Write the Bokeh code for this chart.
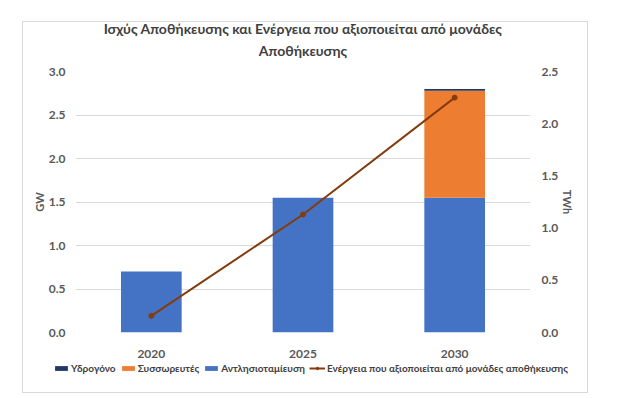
from bokeh.plotting import figure
from bokeh.layouts import column
from bokeh.models import (ColumnDataSource, FactorRange, Range1d, LinearAxis, Legend,
                          LegendItem, SingleIntervalTicker, NumeralTickFormatter, Title)
from bokeh.embed import file_html
from bokeh.resources import INLINE

# ---- data ----
years = ["2020", "2025", "2030"]
pumped = [0.70, 1.55, 1.55]        # Αντλησιοταμίευση (GW)
batteries = [0.0, 0.0, 1.23]       # Συσσωρευτές (GW)
hydrogen = [0.0, 0.0, 0.02]        # Υδρογόνο (GW)
energy = [0.16, 1.13, 2.25]        # Ενέργεια (TWh)

title_line1 = "Ισχύς Αποθήκευσης και Ενέργεια που αξιοποιείται από μονάδες"
title_line2 = "Αποθήκευσης"
names = ["Υδρογόνο", "Συσσωρευτές", "Αντλησιοταμίευση",
         "Ενέργεια που αξιοποιείται από μονάδες αποθήκευσης"]
colors = ["#1F3864", "#ED7D31", "#4472C4"]   # hydrogen, batteries, pumped
LINE_C = "#843C0C"

FONT = "Lato"
TXT = "#595959"

src = ColumnDataSource(dict(years=years, pumped=pumped, batteries=batteries,
                            hydrogen=hydrogen, energy=energy))

p = figure(x_range=FactorRange(*years), y_range=Range1d(0, 3.0),
           width=564, height=338, output_backend="svg", toolbar_location=None,
           min_border_left=52, min_border_right=57, min_border_top=49, min_border_bottom=26)
p.outline_line_color = None
p.extra_y_ranges = {"twh": Range1d(0, 2.5)}

bars = p.vbar_stack(["pumped", "batteries", "hydrogen"], x="years", width=0.4, source=src,
                    color=[colors[2], colors[1], colors[0]], line_color=None)
ln = p.line(x="years", y="energy", source=src, y_range_name="twh",
            line_color=LINE_C, line_width=2)
mk = p.scatter(x="years", y="energy", source=src, y_range_name="twh",
               size=5, color=LINE_C)

# axes
p.yaxis.ticker = SingleIntervalTicker(interval=0.5)
p.yaxis.formatter = NumeralTickFormatter(format="0.0")
p.yaxis.axis_label = "GW"
ra = LinearAxis(y_range_name="twh", axis_label="TWh",
                ticker=SingleIntervalTicker(interval=0.5),
                formatter=NumeralTickFormatter(format="0.0"))
p.add_layout(ra, "right")
for ax in [p.yaxis[0], ra, p.xaxis[0]]:
    ax.axis_line_color = None
    ax.major_tick_line_color = None
    ax.minor_tick_line_color = None
    ax.major_label_text_font = FONT
    ax.major_label_text_font_style = "bold"
    ax.major_label_text_font_size = "12px"
    ax.major_label_text_color = TXT
    ax.axis_label_text_font = FONT
    ax.axis_label_text_font_style = "bold"
    ax.axis_label_text_font_size = "11px"
    ax.axis_label_text_color = TXT
p.yaxis[0].major_label_standoff = 4
ra.major_label_standoff = 5
p.yaxis[0].axis_label_standoff = 0
ra.axis_label_standoff = 0
p.xaxis[0].major_label_standoff = 11

p.xgrid.grid_line_color = None
p.ygrid.grid_line_color = "#d9d9d9"

t2 = Title(text=title_line2, align="center", text_font=FONT, text_font_size="14px",
           text_font_style="bold", text_color="#404040", standoff=25)
t1 = Title(text=title_line1, align="center", text_font=FONT, text_font_size="14px",
           text_font_style="bold", text_color="#404040", standoff=0)
try:
    t1.standoff = -19
except Exception:
    pass
p.add_layout(t2, "above")
p.add_layout(t1, "above")

# ---- legend strip (separate figure so the wide legend is not clipped) ----
lg = figure(width=564, height=32, output_backend="svg", toolbar_location=None,
            x_range=Range1d(0, 1), y_range=Range1d(10, 11),
            min_border_left=0, min_border_right=0, min_border_top=0, min_border_bottom=0)
lg.axis.visible = False
lg.grid.visible = False
lg.outline_line_color = None
for fig in (p, lg):
    try:
        fig.frame_align = False
    except Exception:
        pass
# legend-only renderers (data lies outside this strip's visible range)
r_h = lg.vbar(x="energy", top="hydrogen", width=0.1, source=src, color=colors[0], line_color=None)
r_b = lg.vbar(x="energy", top="batteries", width=0.1, source=src, color=colors[1], line_color=None)
r_p = lg.vbar(x="energy", top="pumped", width=0.1, source=src, color=colors[2], line_color=None)
r_l = lg.line(x="energy", y="energy", source=src, line_color=LINE_C, line_width=2)
r_m = lg.scatter(x="energy", y="energy", source=src, size=5, color=LINE_C)

legend = Legend(items=[LegendItem(label=names[0], renderers=[r_h]),
                       LegendItem(label=names[1], renderers=[r_b]),
                       LegendItem(label=names[2], renderers=[r_p]),
                       LegendItem(label=names[3], renderers=[r_l, r_m])],
                orientation="horizontal", location=(30, 18),
                label_text_font=FONT, label_text_font_size="10px",
                label_text_font_style="bold", label_text_color="#404040",
                glyph_width=16, glyph_height=6, label_standoff=2, spacing=4,
                label_height=12, padding=0, margin=0, border_line_color=None,
                background_fill_alpha=0)
lg.add_layout(legend)

layout = column(p, lg, spacing=0)
layout.margin = (21, 0, 0, 22)
layout.styles = {"border": "1px solid #d9d9d9"}

open("out.html", "w").write(file_html(layout, INLINE))
